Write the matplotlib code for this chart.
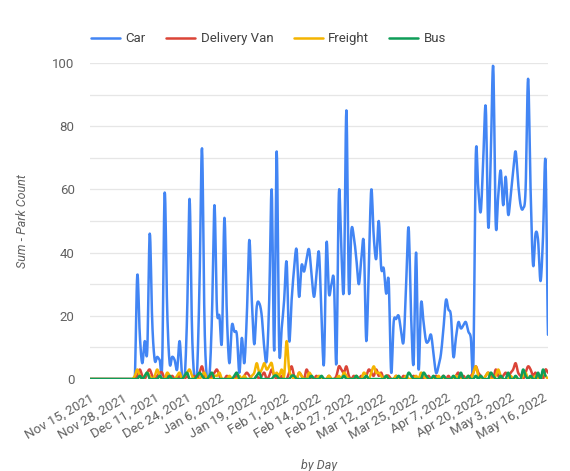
import numpy as np
import pandas as pd
from matplotlib import pyplot as plt
from matplotlib.ticker import MultipleLocator

# daily counts, starting Nov 15, 2021
start_date = '2021-11-15'

car = [0] * 19 + [
    33, 14, 5, 12, 9, 46, 18, 6, 7, 6,
    5, 59, 22, 5, 7, 6, 3, 12, 1, 0,
    20, 57, 15, 0, 2, 30, 73, 18, 0, 1,
    20, 55, 22, 20, 12, 51, 20, 5, 17, 15,
    14, 2, 13, 5, 20, 44, 25, 11, 23, 24,
    20, 10, 6, 25, 60, 9, 72, 10, 16, 25,
    37, 12, 25, 35, 41, 26, 36, 34, 38, 41,
    33, 26, 33, 40, 20, 5, 43, 27, 30, 31,
    5, 59, 40, 29, 85, 28, 47, 45, 38, 30,
    38, 43, 12, 35, 60, 45, 38, 50, 35, 35,
    27, 31, 2, 18, 19, 20, 15, 12, 30, 48,
    20, 5, 40, 3, 24, 18, 12, 12, 14, 8,
    2, 4, 8, 16, 25, 22, 20, 7, 13, 18,
    16, 17, 18, 15, 13, 4, 71, 60, 53, 70,
    86, 48, 70, 99, 49, 58, 66, 55, 64, 52,
    58, 66, 72, 62, 55, 54, 60, 95, 60, 36,
    46, 44, 31, 45, 69, 14]

delivery_van = [0] * 19 + [
    1, 3, 1, 0, 2, 3, 1, 0, 1, 2,
    2, 0, 1, 0, 1, 0, 0, 1, 0, 0,
    1, 0, 0, 1, 0, 2, 4, 1, 0, 0,
    1, 2, 3, 1, 0, 0, 1, 0, 0, 0,
    1, 0, 0, 1, 2, 1, 0, 0, 1, 0,
    1, 2, 0, 1, 3, 1, 0, 0, 1, 0,
    0, 2, 4, 1, 0, 2, 1, 0, 3, 1,
    0, 0, 1, 0, 0, 0, 0, 1, 0, 0,
    1, 4, 3, 2, 4, 1, 0, 1, 0, 0,
    1, 0, 1, 3, 2, 1, 3, 1, 2, 0,
    1, 1, 0, 0, 1, 0, 0, 1, 0, 0,
    0, 1, 0, 0, 1, 0, 0, 1, 0, 0,
    1, 0, 0, 1, 0, 1, 0, 0, 1, 2,
    0, 1, 0, 0, 1, 2, 4, 2, 1, 0,
    1, 2, 1, 0, 3, 1, 0, 1, 2, 1,
    2, 3, 5, 2, 1, 0, 2, 4, 3, 1,
    2, 0, 1, 0, 3, 2]

freight = [0] * 18 + [
    1, 3, 1, 0, 1, 2, 1, 0, 1, 3,
    1, 0, 0, 2, 1, 0, 0, 1, 2, 0,
    1, 2, 3, 1, 0, 0, 0, 1, 2, 0,
    0, 0, 1, 1, 2, 0, 0, 0, 1, 0,
    0, 0, 1, 0, 1, 0, 0, 1, 2, 5,
    2, 3, 5, 3, 4, 5, 1, 2, 1, 3,
    1, 12, 3, 1, 0, 0, 2, 1, 0, 0,
    2, 1, 0, 0, 1, 0, 0, 0, 1, 0,
    0, 0, 1, 0, 2, 1, 0, 0, 0, 1,
    0, 0, 2, 1, 0, 2, 4, 2, 2, 1,
    0, 1, 0, 0, 0, 1, 0, 0, 0, 1,
    0, 0, 0, 1, 0, 2, 1, 0, 0, 0,
    0, 0, 1, 0, 0, 0, 0, 0, 0, 1,
    0, 0, 0, 0, 1, 0, 2, 4, 1, 0,
    0, 1, 2, 0, 0, 1, 3, 1, 0, 0,
    0, 1, 0, 0, 0, 0, 1, 2, 0, 0,
    0, 1, 0, 0, 2, 1, 0]

bus = [0] * 19 + [
    0, 1, 0, 1, 2, 0, 0, 0, 0, 1,
    0, 0, 0, 1, 0, 0, 0, 0, 0, 1,
    2, 0, 0, 0, 1, 2, 1, 0, 0, 1,
    2, 0, 0, 0, 0, 0, 0, 0, 0, 1,
    2, 0, 0, 0, 0, 0, 0, 0, 1, 2,
    0, 0, 0, 0, 0, 1, 1, 0, 0, 0,
    0, 0, 1, 1, 0, 0, 0, 0, 0, 0,
    1, 0, 0, 0, 1, 0, 0, 0, 0, 0,
    0, 0, 0, 1, 0, 0, 0, 0, 1, 0,
    0, 0, 1, 0, 0, 0, 0, 0, 0, 0,
    1, 0, 0, 0, 0, 1, 0, 0, 0, 2,
    1, 0, 0, 0, 0, 2, 1, 0, 0, 1,
    0, 0, 0, 1, 0, 0, 0, 1, 0, 0,
    2, 0, 0, 1, 0, 0, 1, 0, 1, 0,
    0, 0, 2, 1, 0, 0, 1, 0, 0, 2,
    0, 0, 1, 0, 0, 3, 1, 0, 1, 0,
    0, 2, 0, 3, 1]

series_names = ['Car', 'Delivery Van', 'Freight', 'Bus']
series_colors = ['#4285F4', '#DB4437', '#F4B400', '#0F9D58']
tick_step = 13


def smooth(y, steps=8):
    # catmull-rom through every point, like the "function" curve type
    y = np.asarray(y, dtype=float)
    p = np.concatenate([[y[0]], y, [y[-1]]])
    xs, ys = [], []
    t = np.linspace(0, 1, steps, endpoint=False)
    for i in range(1, len(p) - 2):
        p0, p1, p2, p3 = p[i - 1], p[i], p[i + 1], p[i + 2]
        seg = 0.5 * ((2 * p1) + (-p0 + p2) * t +
                     (2 * p0 - 5 * p1 + 4 * p2 - p3) * t ** 2 +
                     (-p0 + 3 * p1 - 3 * p2 + p3) * t ** 3)
        xs.append(i - 1 + t)
        ys.append(seg)
    xs.append([len(y) - 1])
    ys.append([y[-1]])
    return np.concatenate(xs), np.concatenate(ys)


plt.rcParams['font.family'] = ['Roboto', 'DejaVu Sans']
text_grey = '#616161'

fig = plt.figure(figsize=(5.7, 4.71), dpi=100)
ax = fig.add_axes([90 / 570, 1 - 379 / 471, 458 / 570, 316 / 471])

all_series = [car, delivery_van, freight, bus]
n_days = len(car)
dates = pd.date_range(start_date, periods=n_days, freq='D')

for name, vals, col in zip(series_names, all_series, series_colors):
    sx, sy = smooth(vals)
    ax.plot(sx, sy, color=col, lw=1.8, label=name, solid_capstyle='round')

ax.set_xlim(0, n_days - 1)
ax.set_ylim(0, 100)

ax.yaxis.set_major_locator(MultipleLocator(20))
ax.yaxis.set_minor_locator(MultipleLocator(10))
ax.grid(axis='y', which='both', color='#e6e6e6', lw=0.9)
ax.set_axisbelow(True)
ax.tick_params(axis='y', which='both', length=0, labelsize=9.5,
               labelcolor=text_grey, pad=11)

tick_pos = list(range(0, n_days, tick_step))
tick_lab = [dates[i].strftime('%b %-d, %Y') for i in tick_pos]
ax.set_xticks(tick_pos)
ax.set_xticklabels(tick_lab, rotation=30, ha='right', rotation_mode='anchor')
ax.tick_params(axis='x', length=0, labelsize=9.5, labelcolor=text_grey, pad=9)

for s in ax.spines.values():
    s.set_visible(False)

ax.set_ylabel('Sum - Park Count', fontsize=9, style='italic', color=text_grey,
              labelpad=17)
ax.set_xlabel('by Day', fontsize=9, style='italic', color=text_grey, labelpad=12)

leg = ax.legend(loc='upper center', bbox_to_anchor=(0.39, 1.135), ncol=4,
                frameon=False, fontsize=9.5, handlelength=2.2,
                columnspacing=1.55, handletextpad=0.4)
for t in leg.get_texts():
    t.set_color('#424242')

fig.savefig('out.png', dpi=100)
